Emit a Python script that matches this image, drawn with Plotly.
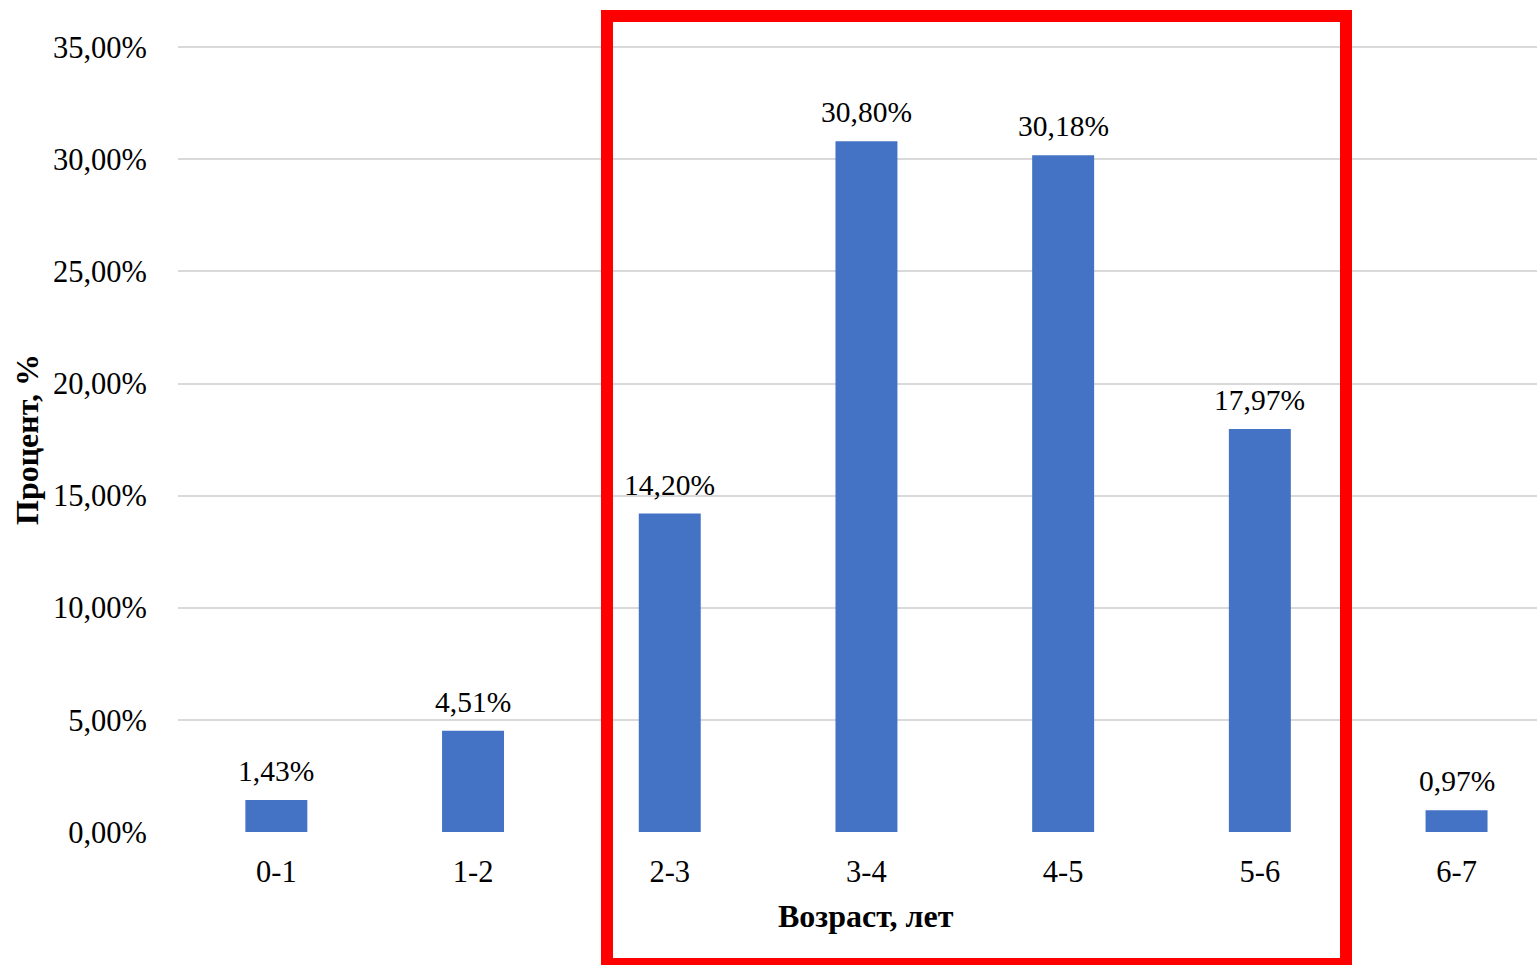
import plotly.graph_objects as go

categories = ["0-1", "1-2", "2-3", "3-4", "4-5", "5-6", "6-7"]
values = [1.43, 4.51, 14.20, 30.80, 30.18, 17.97, 0.97]
value_labels = ["1,43%", "4,51%", "14,20%", "30,80%", "30,18%", "17,97%", "0,97%"]
y_ticks = [0, 5, 10, 15, 20, 25, 30, 35]
y_tick_labels = ["0,00%", "5,00%", "10,00%", "15,00%", "20,00%", "25,00%", "30,00%", "35,00%"]

W, H = 1537, 965
ML, MR, MT, MB = 178, 0, 46, 133

fig = go.Figure()
fig.add_trace(go.Bar(
    x=list(range(len(categories))), y=values, width=0.315,
    marker=dict(color="#4472C4", line=dict(width=0)),
))

label_annotations = [
    dict(text=t, x=i, y=v, xref="x", yref="y", xanchor="center", yanchor="middle",
         yshift=29, showarrow=False,
         font=dict(family="Liberation Serif", size=29.5, color="#000000"))
    for i, (v, t) in enumerate(zip(values, value_labels))
]

fig.update_layout(
    width=W, height=H,
    margin=dict(l=ML, r=MR, t=MT, b=MB, pad=0),
    paper_bgcolor="white", plot_bgcolor="white",
    showlegend=False,
    font=dict(family="Liberation Serif", size=30.5, color="#000000"),
    xaxis=dict(
        range=[-0.5, 6.409], tickvals=list(range(len(categories))), ticktext=categories,
        showgrid=False, zeroline=False, showline=False, ticks="",
        ticklabelstandoff=18, tickfont=dict(family="Liberation Serif", size=30.5),
    ),
    yaxis=dict(
        range=[0, 35.05], tickvals=y_ticks, ticktext=y_tick_labels,
        showgrid=True, gridcolor="#d9d9d9", gridwidth=2, zeroline=False, showline=False,
        ticks="", ticklabelstandoff=30, tickfont=dict(family="Liberation Serif", size=30.5),
    ),
    annotations=label_annotations + [
        dict(text="<b>Возраст, лет</b>", xref="paper", yref="paper",
             x=(866 - ML) / (W - ML - MR), y=-(916 - (H - MB)) / (H - MT - MB),
             xanchor="center", yanchor="middle", showarrow=False,
             font=dict(family="Liberation Serif", size=32)),
        dict(text="<b>Процент, %</b>", xref="paper", yref="paper",
             x=-(ML - 27) / (W - ML - MR), y=(H - MB - 440) / (H - MT - MB),
             xanchor="center", yanchor="middle", textangle=-90, showarrow=False,
             font=dict(family="Liberation Serif", size=32)),
    ],
)

# red highlight frame (pixel positions converted to paper coordinates)
pw, ph = W - ML - MR, H - MT - MB
def px(x):
    return (x - ML) / pw
def py(y):
    return (H - MB - y) / ph
fig.add_shape(type="rect", xref="paper", yref="paper",
              x0=px(607), x1=px(1346), y0=py(964), y1=py(16),
              line=dict(color="#FF0000", width=12), fillcolor="rgba(0,0,0,0)", layer="above")

fig.write_html("out.html")
